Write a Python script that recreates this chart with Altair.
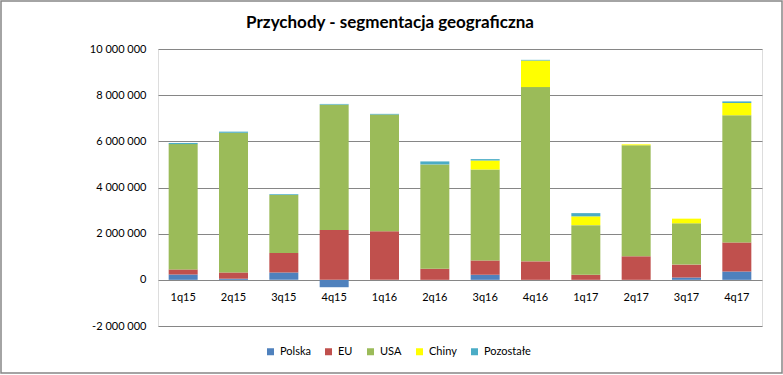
import altair as alt
import pandas as pd

quarters = ["1q15", "2q15", "3q15", "4q15", "1q16", "2q16", "3q16", "4q16", "1q17", "2q17", "3q17", "4q17"]
series = ["Polska", "EU", "USA", "Chiny", "Pozostałe"]
colors = ["#4F81BD", "#C0504D", "#9BBB59", "#FFFF00", "#4BACC6"]

polska = [230000, 50000, 320000, -320000, 0, 0, 220000, 0, 0, 0, 100000, 360000]
eu = [220000, 270000, 840000, 2160000, 2110000, 480000, 620000, 800000, 220000, 1020000, 560000, 1260000]
usa = [5430000, 6050000, 2510000, 5430000, 5050000, 4520000, 3940000, 7550000, 2150000, 4810000, 1790000, 5510000]
chiny = [0, 0, 0, 0, 0, 0, 390000, 1150000, 380000, 40000, 200000, 530000]
pozostale = [50000, 50000, 40000, 30000, 30000, 130000, 60000, 30000, 140000, 0, 0, 70000]

y_ticks = [-2000000, 0, 2000000, 4000000, 6000000, 8000000, 10000000]
title_text = "Przychody - segmentacja geograficzna"

rows = []
for si, (name, vals) in enumerate(zip(series, [polska, eu, usa, chiny, pozostale])):
    for q, v in zip(quarters, vals):
        rows.append({"kwartal": q, "seria": name, "wartosc": v, "idx": si})
df = pd.DataFrame(rows)

FONT = "Lato"
W, H = 604, 277

bars = alt.Chart(df).mark_bar(size=29).encode(
    x=alt.X("kwartal:N", sort=quarters, title=None,
            scale=alt.Scale(paddingInner=0.42, paddingOuter=0.21),
            axis=alt.Axis(labelAngle=0, domain=False, ticks=False, offset=-46,
                          labelPadding=11, labelFontSize=11, labelColor="#000000", labelFont=FONT)),
    y=alt.Y("wartosc:Q", stack="zero", title=None,
            scale=alt.Scale(domain=[-2000000, 10000000], nice=False),
            axis=alt.Axis(values=y_ticks, domain=False, ticks=False, labelPadding=12,
                          labelFontSize=11, labelColor="#000000", labelFont=FONT,
                          gridColor="#868686", gridWidth=1,
                          labelExpr="replace(replace(format(datum.value, ',d'), regexp(',', 'g'), ' '), '\u2212', '-')")),
    color=alt.Color("seria:N", sort=series,
                    scale=alt.Scale(domain=series, range=colors),
                    legend=alt.Legend(title=None, orient="none", direction="horizontal",
                                      legendX=107, legendY=297, symbolType="square",
                                      symbolSize=49, symbolStrokeWidth=0, labelFontSize=11,
                                      labelFont=FONT, labelColor="#000000", labelOffset=4,
                                      columnPadding=12)),
    order=alt.Order("idx:Q", sort="ascending"),
)

border = alt.Chart(pd.DataFrame({"a": [0]})).mark_rect(
    fill=None, stroke="#868686", strokeWidth=1.5
).encode(
    x=alt.value(-157), x2=alt.value(W + 20),
    y=alt.value(-48), y2=alt.value(H + 47),
)

title = alt.Chart(pd.DataFrame({"t": [title_text]})).mark_text(
    font=FONT, fontSize=17, fontWeight="bold", color="#000000", align="center", baseline="alphabetic"
).encode(text="t:N", x=alt.value(232), y=alt.value(-21))

chart = alt.layer(bars, border, title).properties(
    width=W, height=H,
    autosize=alt.AutoSizeParams(type="none"),
    padding={"left": 158, "top": 49, "right": 21, "bottom": 49},
).configure_view(stroke=None).configure(background="white")

chart.save("out.html", embed_options={"renderer": "svg", "actions": False})
